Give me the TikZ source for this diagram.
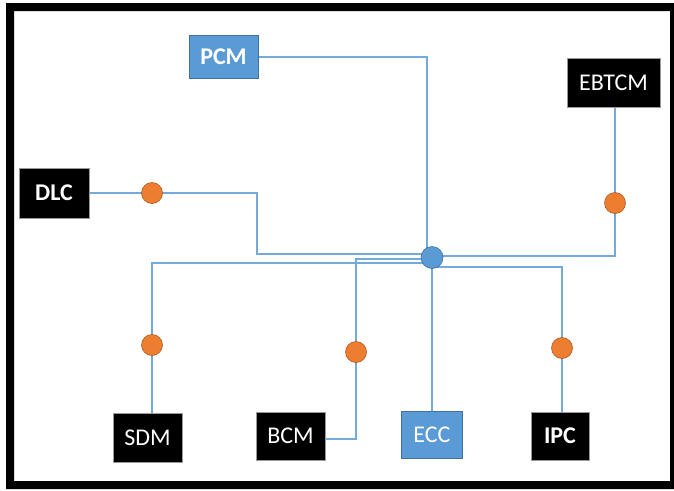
\documentclass[tikz,border=0pt]{standalone}
\usepackage{fontspec}
\setmainfont{Carlito}
\usetikzlibrary{backgrounds}
\definecolor{boxblue}{HTML}{5B9BD5}
\definecolor{edgeblue}{HTML}{41719C}
\definecolor{dotorange}{HTML}{ED7D31}
\definecolor{edgeorange}{HTML}{AE5A21}
\tikzset{
  unit/.style={text=white, font=\fontsize{24}{28}\selectfont, inner sep=0pt, line width=0.8pt},
  blackbox/.style={unit, fill=black, draw=gray!80},
  bluebox/.style={unit, fill=boxblue, draw=edgeblue},
  link/.style={boxblue!85, line width=1.4pt},
  dot/.style={circle, fill=dotorange, draw=edgeorange, line width=0.6pt, minimum size=21pt, inner sep=0pt},
  hubdot/.style={circle, fill=boxblue, draw=edgeblue, line width=0.6pt, minimum size=22pt, inner sep=0pt}
}
\begin{document}
\begin{tikzpicture}[x=1pt,y=-1pt]
    \useasboundingbox (0,0) rectangle (674,490);

    % Frame
    \fill[black, even odd rule] (6,3) rectangle (682,489) (14,11) rectangle (670,481);

    % Units
    \node[bluebox, minimum width=69pt, minimum height=43pt, font=\fontsize{24}{28}\selectfont\bfseries] (pcm) at (223.5,57) {PCM};
    \node[blackbox, minimum width=93pt, minimum height=49pt] (ebtcm) at (613.5,82.5) {EBTCM};
    \node[blackbox, minimum width=70pt, minimum height=50pt, font=\fontsize{24}{28}\selectfont\bfseries] (dlc) at (54,193) {DLC};
    \node[blackbox, minimum width=69pt, minimum height=49pt] (sdm) at (147.5,437.5) {SDM};
    \node[blackbox, minimum width=69pt, minimum height=48pt] (bcm) at (290.5,436) {BCM};
    \node[bluebox, minimum width=61pt, minimum height=47pt] (ecc) at (432,434.5) {ECC};
    \node[blackbox, minimum width=58pt, minimum height=48pt, font=\fontsize{24}{28}\selectfont\bfseries] (ipc) at (560,436) {IPC};

    % Hub
    \node[hubdot] (hub) at (432,257.5) {};

    % Links to the hub
    \begin{pgfonlayer}{background}
      \draw[link] (pcm.east) -| ([xshift=-5pt]hub.center);
      \draw[link] ([xshift=1.5pt]ebtcm.south) |- ([yshift=1.5pt]hub.center);
      \draw[link] (dlc.east) -| (257,254) -- ([yshift=3.5pt]hub.center);
      \draw[link] ([xshift=4.5pt]sdm.north) |- ([yshift=-5.5pt]hub.center);
      \draw[link] ([yshift=-3pt]bcm.east) -| (356,259) -- ([yshift=-1.5pt]hub.center);
      \draw[link] (ecc.north) -- (hub.center);
      \draw[link] ([xshift=2pt]ipc.north) |- ([yshift=-9.5pt]hub.center);
    \end{pgfonlayer}

    % Orange dots
    \node[dot] (dlcdot) at (152,193) {};
    \node[dot] (ebtcmdot) at (615,203) {};
    \node[dot] (sdmdot) at (152,345) {};
    \node[dot] (bcmdot) at (356,352) {};
    \node[dot] (ipcdot) at (562,348) {};
\end{tikzpicture}
\end{document}
